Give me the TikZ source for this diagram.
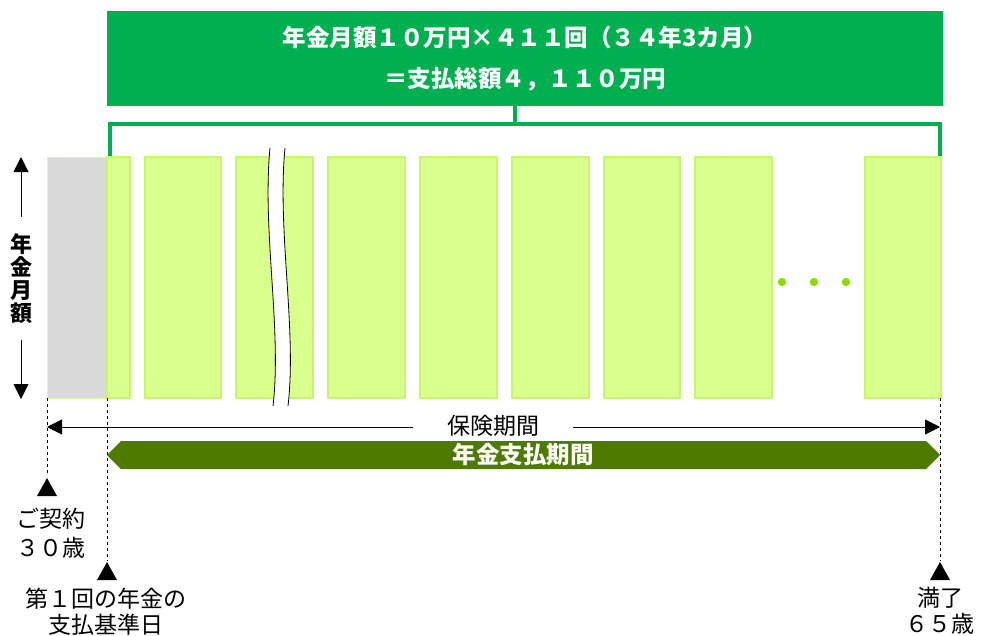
\documentclass[tikz,border=0pt]{standalone}
\usepackage{fontspec}
\setmainfont{Noto Sans CJK JP}
\usetikzlibrary{arrows.meta}
\definecolor{hdrgreen}{HTML}{00B050}
\definecolor{barfill}{HTML}{D9FF8C}
\definecolor{barline}{HTML}{C6F56E}
\definecolor{bandgreen}{HTML}{4E7A00}
\definecolor{dotgreen}{HTML}{8CDC00}
\definecolor{greyfill}{HTML}{D9D9D9}
\begin{document}
\begin{tikzpicture}[x=1pt,y=-1pt,
  bar/.style={draw=barline, line width=1.5pt, fill=barfill, anchor=north west,
    inner sep=0pt, outer sep=0pt, minimum height=241pt},
  brk/.style={draw=hdrgreen, line width=4pt},
  dashline/.style={draw=black, dashed, line width=0.8pt},
  tri/.style={fill=black},
  lbl/.style={align=center, font=\fontsize{23}{26}\selectfont, inner sep=0pt},
  tip/.style={-{Triangle[length=15pt,width=15pt]}, line width=0.8pt}
]
\useasboundingbox (0,0) rectangle (981,635);
% header
\node[fill=hdrgreen, minimum width=836pt, minimum height=95pt, inner sep=0pt,
  text=white, align=center, font=\fontsize{23.5}{30}\selectfont\bfseries] (hdr) at (525,58.5)
  {年金月額１０万円×４１１回（３４年3カ月）\\[11pt]＝支払総額４，１１０万円};
% bracket
\coordinate (bl) at (110,157);
\coordinate (br) at (940,157);
\coordinate (bm) at (515,124);
\draw[brk] (hdr.south -| bm) -- (bm);
\draw[brk, line cap=rect] (bl) -- (bl |- bm) -- (br |- bm) -- (br);
% bars
\node[bar, draw=barline!60, line width=0.8pt, fill=greyfill, minimum width=60pt] (g0) at (47,157) {};
\node[bar, minimum width=23pt] (b0) at (107,157) {};
\node[bar, minimum width=76pt] (b1) at (145,157) {};
\node[bar, minimum width=77pt] (b2) at (236,157) {};
\node[bar, minimum width=77pt] (b3) at (328,157) {};
\node[bar, minimum width=77pt] (b4) at (420,157) {};
\node[bar, minimum width=77pt] (b5) at (512,157) {};
\node[bar, minimum width=76pt] (b6) at (604,157) {};
\node[bar, minimum width=77pt] (b7) at (695,157) {};
\node[bar, minimum width=76pt] (b8) at (865,157) {};
% break mark
\fill[white] (270,148) .. controls (262,230) and (282,330) .. (273,406)
  -- (288,406) .. controls (297,330) and (277,230) .. (285,148) -- cycle;
\draw[line width=0.8pt] (270,148) .. controls (262,230) and (282,330) .. (273,406);
\draw[line width=0.8pt] (285,148) .. controls (277,230) and (297,330) .. (288,406);
% dots
\foreach \i/\x in {1/782,2/814,3/846}
  \fill[dotgreen] (\x,282) circle (4.2pt);
% left vertical arrow and label
\node[align=center, font=\fontsize{22}{23}\selectfont\bfseries, inner sep=0pt] (vl) at (21,279) {年\\金\\月\\額};
\coordinate (vtop) at (21,157);
\coordinate (vbot) at (21,399);
\draw[tip] (vl.north |- 0,217) -- (vtop);
\draw[tip] (vl.south |- 0,340) -- (vbot);
% dashed lines
\coordinate (d1) at (47,476);
\coordinate (d2) at (107,561);
\coordinate (d3) at (940,561);
\draw[dashline] (g0.south west) -- (d1);
\draw[dashline] (g0.south east) -- (d2);
\draw[dashline] (b8.south east -| d3) -- (d3);
% period arrow
\coordinate (pl) at (47,427);
\coordinate (pr) at (940,427);
\draw[{Triangle[length=15pt,width=15pt]}-{Triangle[length=15pt,width=15pt]}, line width=0.8pt] (pl) -- (pr);
\node[fill=white, inner xsep=34pt, inner ysep=2pt, font=\fontsize{23}{26}\selectfont] (hk) at (493,426) {保険期間};
% banner
\fill[bandgreen] (107,455) -- (121,441) -- (926,441) -- (940,455) -- (926,469) -- (121,469) -- cycle;
\node[text=white, font=\fontsize{23.5}{26}\selectfont\bfseries, inner sep=0pt] (band) at (523,455) {年金支払期間};
% triangles
\fill[tri] (47,478) -- (57,496) -- (37,496) -- cycle;
\fill[tri] (107,562) -- (117,580) -- (97,580) -- cycle;
\fill[tri] (940,562) -- (950,580) -- (930,580) -- cycle;
% labels
\node[lbl, font=\fontsize{23}{29}\selectfont] (l1) at (51,533) {ご契約\\３０歳};
\node[lbl] (l2) at (106,612) {第１回の年金の\\支払基準日};
\node[lbl] (l3) at (940,611) {満了\\６５歳};
\end{tikzpicture}
\end{document}
